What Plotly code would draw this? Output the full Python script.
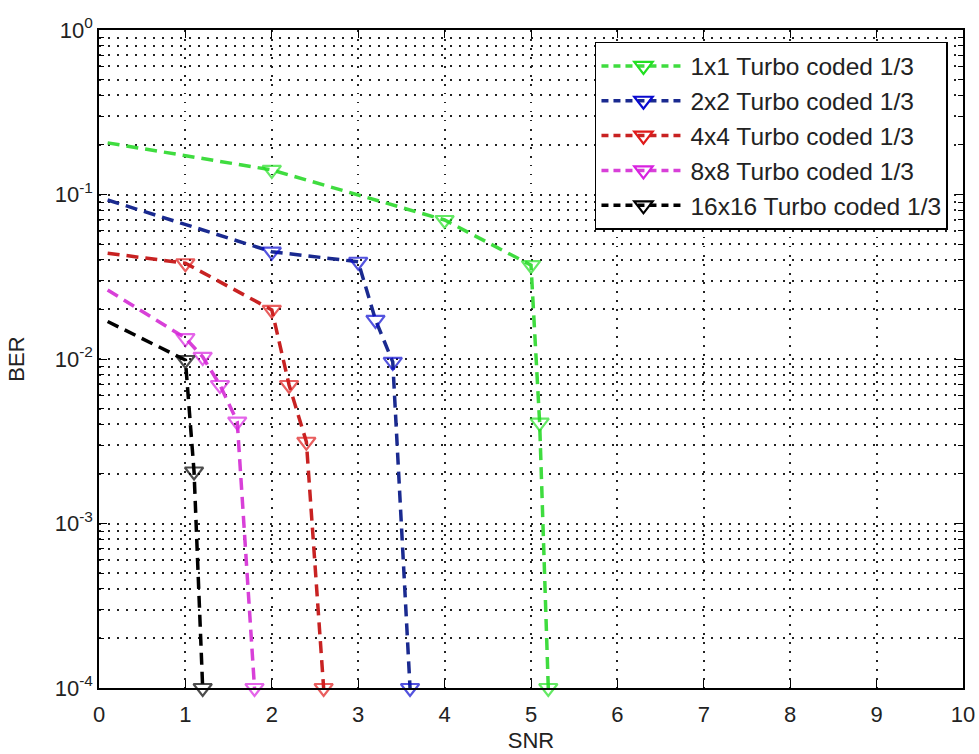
import plotly.graph_objects as go

# ---- data ----
SNR_1x1 = [0.1, 2, 4, 5, 5.1, 5.2]
BER_1x1 = [0.206, 0.141, 0.070, 0.0372, 0.0041, 1e-4]

SNR_2x2 = [0.1, 2, 3, 3.2, 3.4, 3.6]
BER_2x2 = [0.0926, 0.0449, 0.039, 0.0173, 0.0096, 1e-4]

SNR_4x4 = [0.1, 1, 2, 2.2, 2.4, 2.6]
BER_4x4 = [0.044, 0.0382, 0.0199, 0.00695, 0.00314, 1e-4]

SNR_8x8 = [0.1, 1, 1.2, 1.4, 1.6, 1.8]
BER_8x8 = [0.0263, 0.0134, 0.0103, 0.00695, 0.00416, 1e-4]

SNR_16x16 = [0.1, 1, 1.1, 1.2]
BER_16x16 = [0.0169, 0.00986, 0.00207, 1e-4]

SERIES_NAMES = ["1x1 Turbo coded 1/3", "2x2 Turbo coded 1/3", "4x4 Turbo coded 1/3",
                "8x8 Turbo coded 1/3", "16x16 Turbo coded 1/3"]

Y_TICK_VALUES = [1e-4, 1e-3, 1e-2, 1e-1, 1]
Y_TICK_LABELS = ["10<sup>-4</sup>", "10<sup>-3</sup>", "10<sup>-2</sup>", "10<sup>-1</sup>", "10<sup>0</sup>"]
X_TICK_VALUES = list(range(0, 11))

LINE_COLORS = ["#3fdc3f", "#1a2a90", "#c82222", "#d840d8", "#000000"]
MARKER_COLORS = ["#22e022", "#0a0ad0", "#e01a1a", "#d822e0", "#000000"]

FONT = "Liberation Sans, Arial, sans-serif"

fig = go.Figure()

data = [(SNR_1x1, BER_1x1), (SNR_2x2, BER_2x2), (SNR_4x4, BER_4x4),
        (SNR_8x8, BER_8x8), (SNR_16x16, BER_16x16)]

DASH = "12px,7px"
MSIZE = 16

for (xs, ys), name, lc, mc in zip(data, SERIES_NAMES, LINE_COLORS, MARKER_COLORS):
    sizes = [0] + [MSIZE] * (len(xs) - 1)  # first point (curve start) has no marker
    fig.add_trace(go.Scatter(
        x=xs, y=ys, mode="lines+markers", name=name, showlegend=False,
        line=dict(color=lc, width=3.5, dash=DASH),
        marker=dict(symbol="triangle-down-open", size=sizes, color=mc,
                    line=dict(color=mc, width=2.2)),
        cliponaxis=False,
    ))
    # legend entry
    fig.add_trace(go.Scatter(
        x=[None], y=[None], mode="lines+markers", name=name,
        line=dict(color=lc, width=3.5, dash="7px,5px"),
        marker=dict(symbol="triangle-down-open", size=MSIZE, color=mc,
                    line=dict(color=mc, width=2.2)),
    ))

minor_y = [m * 10 ** e for e in range(-4, 0) for m in range(2, 10)]

GRID_DASH = "1.5px,7.5px"

fig.update_xaxes(
    range=[0, 10], tickmode="array", tickvals=X_TICK_VALUES,
    ticks="inside", ticklen=8, tickwidth=1, tickcolor="black",
    showline=True, linecolor="black", linewidth=1.5, mirror="allticks",
    showgrid=True, gridcolor="#222", griddash=GRID_DASH, gridwidth=1.5,
    zeroline=False, ticklabelstandoff=6, automargin=False,
    title=dict(text="SNR", font=dict(size=22, color="#222", family=FONT), standoff=6),
    tickfont=dict(size=22, color="#222", family=FONT),
)
fig.update_yaxes(
    type="log", range=[-4, 0], tickmode="array", tickvals=Y_TICK_VALUES, ticktext=Y_TICK_LABELS,
    ticks="inside", ticklen=8, tickwidth=1, tickcolor="black",
    showline=True, linecolor="black", linewidth=1.5, mirror="allticks",
    showgrid=True, gridcolor="#222", griddash=GRID_DASH, gridwidth=1.5,
    zeroline=False, automargin=False,
    minor=dict(tickmode="array", tickvals=minor_y, ticks="inside", ticklen=5,
               tickcolor="black", showgrid=True, gridcolor="#222",
               griddash=GRID_DASH, gridwidth=1.5),
    title=dict(text="BER", font=dict(size=22, color="#222", family=FONT), standoff=24),
    tickfont=dict(size=22, color="#222", family=FONT),
)

fig.update_layout(
    width=979, height=754,
    margin=dict(l=99, r=16, t=30, b=66),
    paper_bgcolor="white", plot_bgcolor="white",
    font=dict(family=FONT, color="#222"),
    legend=dict(
        x=0.9826, y=0.9818, xanchor="right", yanchor="top",
        bgcolor="white", bordercolor="black", borderwidth=1.5,
        font=dict(size=24.5, color="#222", family=FONT),
        itemwidth=84, tracegroupgap=0,
    ),
)

fig.write_html("out.html")
